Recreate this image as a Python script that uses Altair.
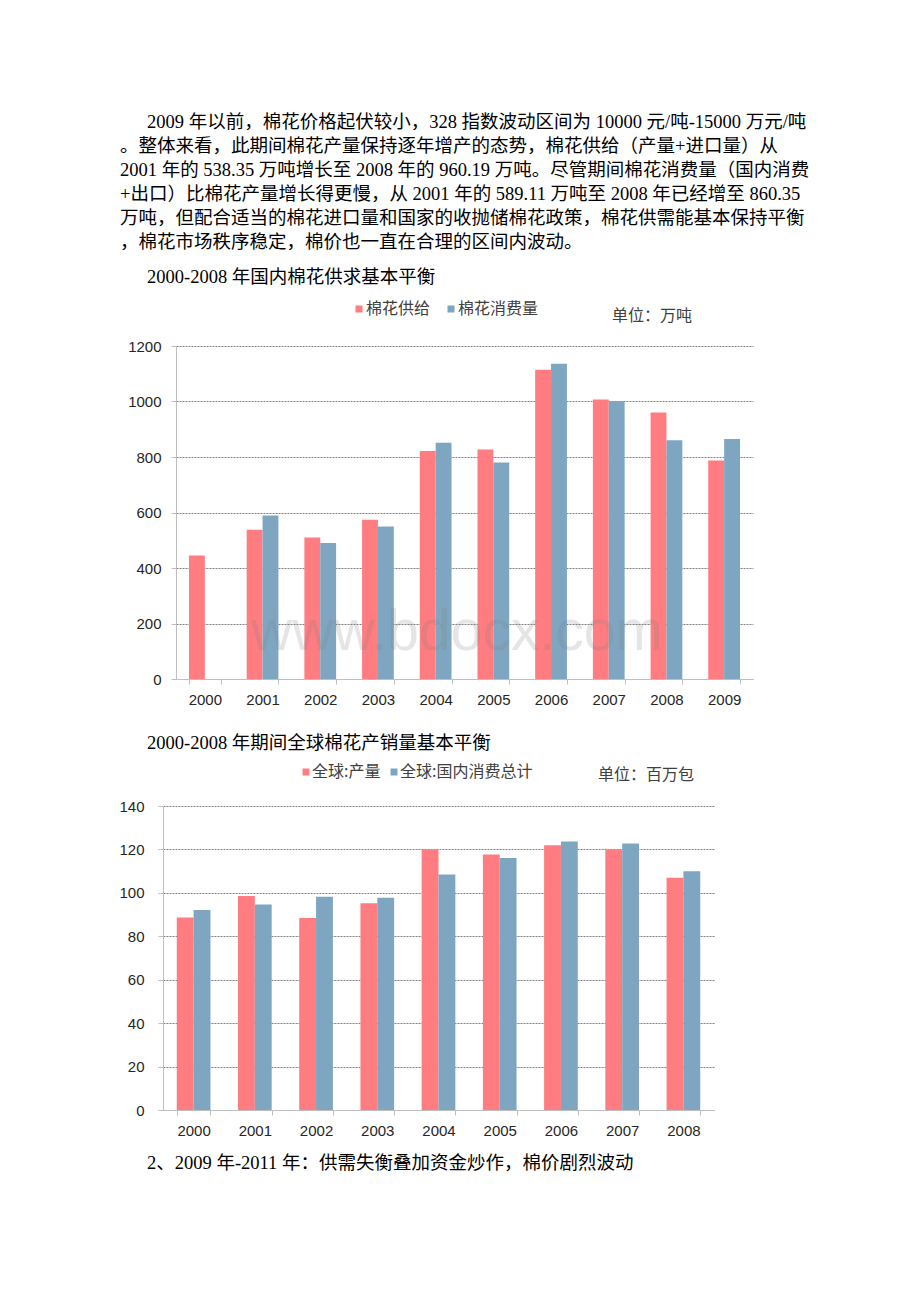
import altair as alt
import pandas as pd

# ---------------- data ----------------
years1 = ["2000", "2001", "2002", "2003", "2004", "2005", "2006", "2007", "2008", "2009"]
supply = [445, 538, 510, 574, 822, 827, 1114, 1007, 960, 787]
consumption = [None, 589, 490, 550, 851, 780, 1136, 1001, 860, 865]
series1 = ["棉花供给", "棉花消费量"]
yticks1 = [0, 200, 400, 600, 800, 1000, 1200]

years2 = ["2000", "2001", "2002", "2003", "2004", "2005", "2006", "2007", "2008"]
production = [88.7, 98.6, 88.4, 95.2, 120.0, 117.7, 121.9, 120.0, 107.0]
world_use = [92.1, 94.6, 98.2, 97.8, 108.5, 116.1, 123.6, 122.7, 109.9]
series2 = ["全球:产量", "全球:国内消费总计"]
yticks2 = [0, 20, 40, 60, 80, 100, 120, 140]

colors = ["#FF7C80", "#7EA6C0"]

para_lines = [
    "2009 年以前，棉花价格起伏较小，328 指数波动区间为 10000 元/吨-15000 万元/吨",
    "。整体来看，此期间棉花产量保持逐年增产的态势，棉花供给（产量+进口量）从",
    "2001 年的 538.35 万吨增长至 2008 年的 960.19 万吨。尽管期间棉花消费量（国内消费",
    "+出口）比棉花产量增长得更慢，从 2001 年的 589.11 万吨至 2008 年已经增至 860.35",
    "万吨，但配合适当的棉花进口量和国家的收抛储棉花政策，棉花供需能基本保持平衡",
    "，棉花市场秩序稳定，棉价也一直在合理的区间内波动。",
]
title1 = "2000-2008 年国内棉花供求基本平衡"
unit1 = "单位：万吨"
title2 = "2000-2008 年期间全球棉花产销量基本平衡"
unit2 = "单位：百万包"
heading = "2、2009 年-2011 年：供需失衡叠加资金炒作，棉价剧烈波动"
watermark = "www.bdocx.com"

# ---------------- helpers ----------------
X0 = 176  # page x of the common panel origin
BODY_FONT = "Liberation Serif, Noto Sans CJK SC"
SANS_CJK = "Noto Sans CJK SC"
AX_FONT = "Liberation Sans"
PAGE_W = 920
PAD_IN, PAD_OUT = 0.45, 0.225


def one(txt):
    return pd.DataFrame({"t": [txt]})


def bg(h):
    # invisible frame that fixes the page extents
    return alt.Chart(one("")).mark_rect(color="white", opacity=0).encode(
        x=alt.value(-X0), x2=alt.value(PAGE_W - X0), y=alt.value(0), y2=alt.value(h)
    )


def txt(s, x, y, font=BODY_FONT, size=18.5, color="#000000"):
    return alt.Chart(one(s)).mark_text(
        align="left", baseline="middle", font=font, fontSize=size, color=color
    ).encode(text="t:N", x=alt.value(x), y=alt.value(y))


def square(x, y, color):
    return alt.Chart(one("")).mark_square(size=49, filled=True, opacity=1, color=color).encode(
        x=alt.value(x), y=alt.value(y)
    )


x_axis_common = dict(
    title=None, labelAngle=0, tickBand="extent", domainColor="#bfbfbf", tickColor="#bfbfbf",
    tickSize=5, labelFont=AX_FONT, labelFontSize=15, labelColor="#262626", labelPadding=8, grid=False,
)


def grouped_bars(df, years, series, x_range, plot_w, ymax, yticks, y_offset, label_pad):
    n = len(years)
    step = plot_w / n
    bw = step * (1 - PAD_IN) / 2  # width of one bar in pixels
    layers = []
    for k, s in enumerate(series):
        shift = (k - (len(series) - 1) / 2) * bw
        xs = alt.Scale(paddingInner=PAD_IN, paddingOuter=PAD_OUT)
        if x_range is not None:
            xs = alt.Scale(range=x_range, paddingInner=PAD_IN, paddingOuter=PAD_OUT)
        yaxis = alt.Axis(title=None, values=yticks, format="d", domainColor="#bfbfbf",
                         tickColor="#bfbfbf", tickSize=5, labelFont=AX_FONT, labelFontSize=15,
                         labelColor="#262626", labelPadding=label_pad, grid=True,
                         gridColor="#808080", gridDash=[2, 1], gridWidth=1)
        if y_offset:
            yaxis = alt.Axis(title=None, values=yticks, format="d", offset=y_offset,
                             domainColor="#bfbfbf", tickColor="#bfbfbf", tickSize=5,
                             labelFont=AX_FONT, labelFontSize=15, labelColor="#262626",
                             labelPadding=label_pad, grid=True, gridColor="#808080",
                             gridDash=[2, 1], gridWidth=1)
        layers.append(
            alt.Chart(df).transform_filter(alt.datum.series == s)
            .mark_bar(width=bw, xOffset=shift, color=colors[k])
            .encode(
                x=alt.X("year:N", sort=years, scale=xs, axis=alt.Axis(**x_axis_common)),
                y=alt.Y("value:Q", scale=alt.Scale(domain=[0, ymax], nice=False), axis=yaxis),
            )
        )
    return layers


# ---------------- panel 1: paragraph + chart-1 header ----------------
H1 = 346
layers1 = [bg(H1)]
for i, line in enumerate(para_lines):
    layers1.append(txt(line, (147 if i == 0 else 120) - X0, 122 + 24 * i))
layers1.append(txt(title1, 147 - X0, 277))
layers1.append(square(359 - X0, 309, colors[0]))
layers1.append(txt(series1[0], 366 - X0, 309, SANS_CJK, 16, "#404040"))
layers1.append(square(451 - X0, 309, colors[1]))
layers1.append(txt(series1[1], 458 - X0, 309, SANS_CJK, 16, "#404040"))
layers1.append(txt(unit1, 612 - X0, 316, SANS_CJK, 16, "#404040"))
p1 = alt.layer(*layers1).properties(width=PAGE_W - X0, height=H1)

# ---------------- panel 2: chart 1 ----------------
rows1 = []
for y, a, b in zip(years1, supply, consumption):
    if a is not None:
        rows1.append({"year": y, "series": series1[0], "value": a})
    if b is not None:
        rows1.append({"year": y, "series": series1[1], "value": b})
df1 = pd.DataFrame(rows1)

W1 = 577
wm = alt.Chart(one(watermark)).mark_text(
    align="center", baseline="middle", font=AX_FONT, fontSize=57, color="#808080", opacity=0.2
).encode(text="t:N", x=alt.value(281), y=alt.value(287))
p2 = alt.layer(
    *grouped_bars(df1, years1, series1, None, W1, 1200, yticks1, 0, 10), wm
).properties(width=W1, height=333)

# ---------------- panel 3: chart-2 header ----------------
H3 = 127
layers3 = [bg(H3)]
layers3.append(txt(title2, 147 - X0, 64))
layers3.append(square(306 - X0, 93, colors[0]))
layers3.append(txt(series2[0], 312 - X0, 93, SANS_CJK, 16, "#404040"))
layers3.append(square(394 - X0, 93, colors[1]))
layers3.append(txt(series2[1], 400 - X0, 93, SANS_CJK, 16, "#404040"))
layers3.append(txt(unit2, 598 - X0, 96, SANS_CJK, 16, "#404040"))
p3 = alt.layer(*layers3).properties(width=PAGE_W - X0, height=H3)

# ---------------- panel 4: chart 2 ----------------
rows2 = []
for y, a, b in zip(years2, production, world_use):
    rows2.append({"year": y, "series": series2[0], "value": a})
    rows2.append({"year": y, "series": series2[1], "value": b})
df2 = pd.DataFrame(rows2)

X2L, X2R = 163 - X0, 714 - X0  # chart-2 plot starts 13px left of the panel origin
p4 = alt.layer(
    *grouped_bars(df2, years2, series2, [X2L, X2R], X2R - X2L, 140, yticks2, -X2L, 14)
).properties(width=X2R, height=304)

# ---------------- panel 5: heading ----------------
H5 = 192
p5 = alt.layer(bg(H5), txt(heading, 147 - X0, 53)).properties(width=PAGE_W - X0, height=H5)

chart = alt.vconcat(p1, p2, p3, p4, p5, spacing=0, bounds="flush").properties(
    padding=0, background="white"
).configure_view(strokeWidth=0)

chart.save("out.html", embed_options={"renderer": "svg", "actions": False})
